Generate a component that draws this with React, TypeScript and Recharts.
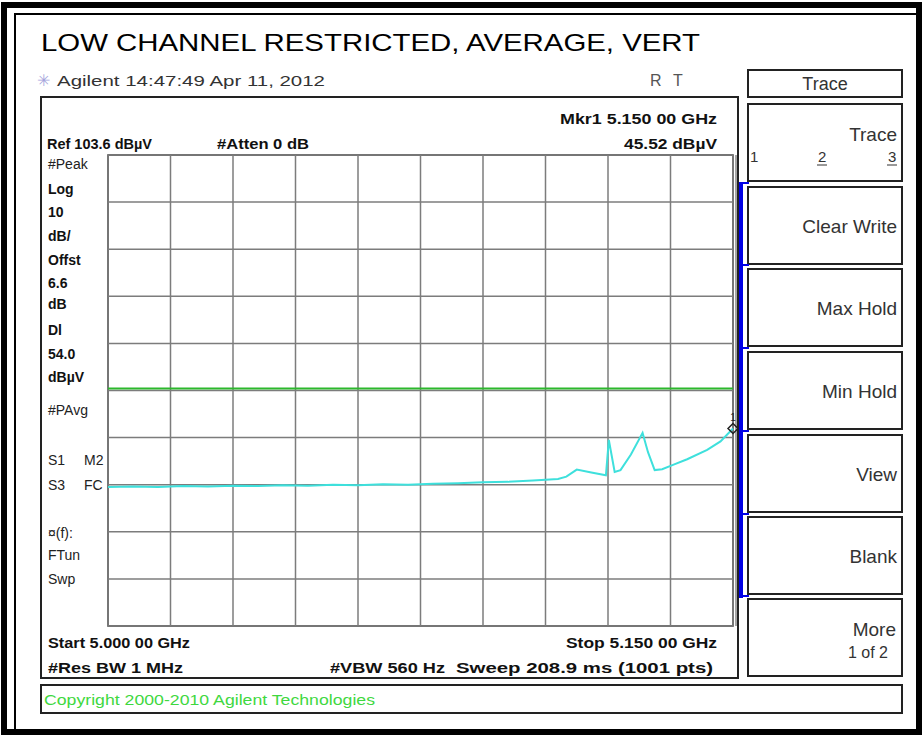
import React from "react"
import { LineChart, Line, XAxis, YAxis, CartesianGrid, ReferenceLine, ReferenceDot } from "recharts"

// sweep 5.000 - 5.150 GHz, values in dBuV
const freqMHz = [
  5000, 5006, 5012, 5018, 5024, 5030, 5036, 5042, 5048, 5054, 5060, 5066, 5072, 5078, 5084,
  5090, 5096, 5102, 5108, 5110, 5112.5, 5116, 5119.5, 5120.2, 5121.6, 5123, 5125.5, 5128.3,
  5129.6, 5131.2, 5133, 5135.6, 5139, 5143.8, 5147, 5150,
]
const levelDbuV = [
  33.1, 33.2, 33.1, 33.3, 33.2, 33.4, 33.3, 33.5, 33.4, 33.6, 33.5, 33.7, 33.6, 33.8, 33.9,
  34.1, 34.2, 34.5, 34.8, 35.3, 36.8, 36.2, 35.6, 43.1, 36.3, 36.7, 40.0, 44.6,
  40.5, 36.7, 36.9, 37.8, 39.0, 41.0, 42.8, 45.52,
]
const xTicks = [5000, 5015, 5030, 5045, 5060, 5075, 5090, 5105, 5120, 5135, 5150]
const yTicks = [3.6, 13.6, 23.6, 33.6, 43.6, 53.6, 63.6, 73.6, 83.6, 93.6, 103.6]
const displayLine = 54.0
const marker = { f: 5150, v: 45.52 }

const data = freqMHz.map((f, i) => ({ f, v: levelDbuV[i] }))

const softKeys = [
  { top: 104, lines: ["Trace"] },
  { top: 187, lines: ["Clear Write"] },
  { top: 269, lines: ["Max Hold"] },
  { top: 352, lines: ["Min Hold"] },
  { top: 435, lines: ["View"] },
  { top: 517, lines: ["Blank"] },
  { top: 599, lines: ["More", "1 of 2"] },
]

const leftBold = [
  ["Log", 194], ["10", 217], ["dB/", 241], ["Offst", 265], ["6.6", 288], ["dB", 309],
  ["Dl", 335], ["54.0", 359], ["dBµV", 382],
] as const
const leftPlain = [
  ["#Peak", 169], ["#PAvg", 415], ["¤(f):", 538], ["FTun", 560], ["Swp", 584],
] as const

const sans = "'Liberation Sans', Arial, sans-serif"

function MarkerShape(props: any) {
  const { cx, cy } = props
  return (
    <g>
      <path d={`M${cx},${cy - 5} L${cx + 5},${cy} L${cx},${cy + 5} L${cx - 5},${cy} Z`} fill="none" stroke="#222" strokeWidth={1.5} />
      <text x={cx} y={cy - 8} fontSize={10} fontFamily={sans} fill="#222" textAnchor="middle">1</text>
    </g>
  )
}

function Panel() {
  return (
    <svg width={923} height={736} style={{ position: "absolute", left: 0, top: 0 }}>
      <rect x={0} y={0} width={923} height={736} fill="#fff" />
      {/* outer frame */}
      <rect x={4} y={5} width={915} height={727} fill="none" stroke="#000" strokeWidth={6} />
      <line x1={14} y1={14} x2={919} y2={14} stroke="#000" strokeWidth={2} />
      <line x1={15} y1={14} x2={15} y2={732} stroke="#000" strokeWidth={2} />

      <text x={41} y={51} fontSize={24} fontFamily={sans} textLength={659} lengthAdjust="spacingAndGlyphs">
        LOW CHANNEL RESTRICTED, AVERAGE, VERT
      </text>
      <text x={37} y={86} fontSize={16} fontFamily="'DejaVu Sans', sans-serif" fill="#a4a4dc">✳</text>
      <text x={57} y={86} fontSize={15} fontFamily={sans} fill="#333" textLength={268} lengthAdjust="spacingAndGlyphs">
        Agilent 14:47:49  Apr 11, 2012
      </text>
      <text x={650} y={86} fontSize={16} fontFamily={sans} fill="#555">R</text>
      <text x={673} y={86} fontSize={16} fontFamily={sans} fill="#555">T</text>

      {/* instrument screen frame */}
      <rect x={41} y={97} width={697} height={581} fill="none" stroke="#222" strokeWidth={2} />
      <rect x={41} y={685} width={861} height={28} fill="none" stroke="#222" strokeWidth={2} />
      <text x={44} y={705} fontSize={15} fontFamily={sans} fill="#3fd83f" textLength={331} lengthAdjust="spacingAndGlyphs">
        Copyright 2000-2010 Agilent Technologies
      </text>

      <g fontFamily={sans} fontSize={14} fontWeight="bold" fill="#111">
        <text x={560} y={124} textLength={157} lengthAdjust="spacingAndGlyphs">Mkr1 5.150 00 GHz</text>
        <text x={47} y={149} textLength={105} lengthAdjust="spacingAndGlyphs">Ref 103.6 dBµV</text>
        <text x={217} y={149} textLength={92} lengthAdjust="spacingAndGlyphs">#Atten 0 dB</text>
        <text x={624} y={149} textLength={93} lengthAdjust="spacingAndGlyphs">45.52 dBµV</text>
        {leftBold.map(([t, y]) => (
          <text key={t} x={48} y={y}>{t}</text>
        ))}
        <text x={48} y={648} textLength={142} lengthAdjust="spacingAndGlyphs">Start 5.000 00 GHz</text>
        <text x={566} y={648} textLength={151} lengthAdjust="spacingAndGlyphs">Stop 5.150 00 GHz</text>
        <text x={48} y={673} textLength={135} lengthAdjust="spacingAndGlyphs">#Res BW 1 MHz</text>
        <text x={330} y={673} textLength={115} lengthAdjust="spacingAndGlyphs">#VBW 560 Hz</text>
        <text x={456} y={673} textLength={257} lengthAdjust="spacingAndGlyphs">Sweep 208.9 ms (1001 pts)</text>
      </g>
      <g fontFamily={sans} fontSize={14} fill="#222">
        {leftPlain.map(([t, y]) => (
          <text key={t} x={48} y={y}>{t}</text>
        ))}
        <text x={48} y={465}>S1</text>
        <text x={84} y={465}>M2</text>
        <text x={48} y={490}>S3</text>
        <text x={84} y={490}>FC</text>
      </g>

      {/* soft keys */}
      <rect x={748} y={70} width={154} height={27} fill="none" stroke="#222" strokeWidth={2} />
      <text x={825} y={90} fontSize={18} fontFamily={sans} fill="#333" textAnchor="middle">Trace</text>
      {softKeys.map((k) => (
        <g key={k.top}>
          <rect x={748} y={k.top} width={154} height={77} fill="none" stroke="#222" strokeWidth={2} />
          {k.lines.length === 1 && k.top !== 104 && (
            <text x={897} y={k.top + 46} fontSize={19} fontFamily={sans} fill="#333" textAnchor="end">{k.lines[0]}</text>
          )}
          {k.lines.length === 2 && (
            <>
              <text x={896} y={k.top + 37} fontSize={19} fontFamily={sans} fill="#333" textAnchor="end">{k.lines[0]}</text>
              <text x={888} y={k.top + 59} fontSize={16} fontFamily={sans} fill="#333" textAnchor="end">{k.lines[1]}</text>
            </>
          )}
        </g>
      ))}
      <text x={897} y={141} fontSize={19} fontFamily={sans} fill="#333" textAnchor="end">Trace</text>
      <g fontSize={15} fontFamily={sans} fill="#333">
        <text x={750} y={162}>1</text>
        <text x={818} y={162}>2</text>
        <text x={888} y={162}>3</text>
      </g>
      <line x1={817} y1={165} x2={827} y2={165} stroke="#333" strokeWidth={1} />
      <line x1={887} y1={165} x2={897} y2={165} stroke="#333" strokeWidth={1} />

      {/* plot frame */}
      <rect x={108} y={155} width={625} height={471} fill="none" stroke="#333" strokeWidth={1.5} />
      <line x1={736} y1={155} x2={736} y2={626} stroke="#888" strokeWidth={1.5} />
      <rect x={739} y={182} width={4} height={416} fill="#0000e6" />
      {[183, 265, 348, 431, 514, 596].map((y) => (
        <line key={y} x1={741} y1={y} x2={749} y2={y} stroke="#0000e6" strokeWidth={2} />
      ))}
    </svg>
  )
}

export default function App() {
  return (
    <div style={{ position: "absolute", left: 0, top: 0, width: 923, height: 736, background: "#fff" }}>
      <Panel />
      <div style={{ position: "absolute", left: 107, top: 144 }}>
        <LineChart width={640} height={483} data={data} margin={{ top: 11, right: 14, bottom: 1, left: 1 }}>
          <CartesianGrid stroke="#7c7c7c" strokeWidth={1.5} />
          <XAxis dataKey="f" type="number" domain={[5000, 5150]} ticks={xTicks} hide />
          <YAxis type="number" domain={[3.6, 103.6]} ticks={yTicks} hide />
          <ReferenceLine y={displayLine} stroke="#2cb82c" strokeWidth={2} />
          <Line dataKey="v" type="linear" stroke="#3ee0dc" strokeWidth={2} dot={false} isAnimationActive={false} />
          <ReferenceDot x={marker.f} y={marker.v} r={5} shape={MarkerShape} ifOverflow="visible" />
        </LineChart>
      </div>
    </div>
  )
}
